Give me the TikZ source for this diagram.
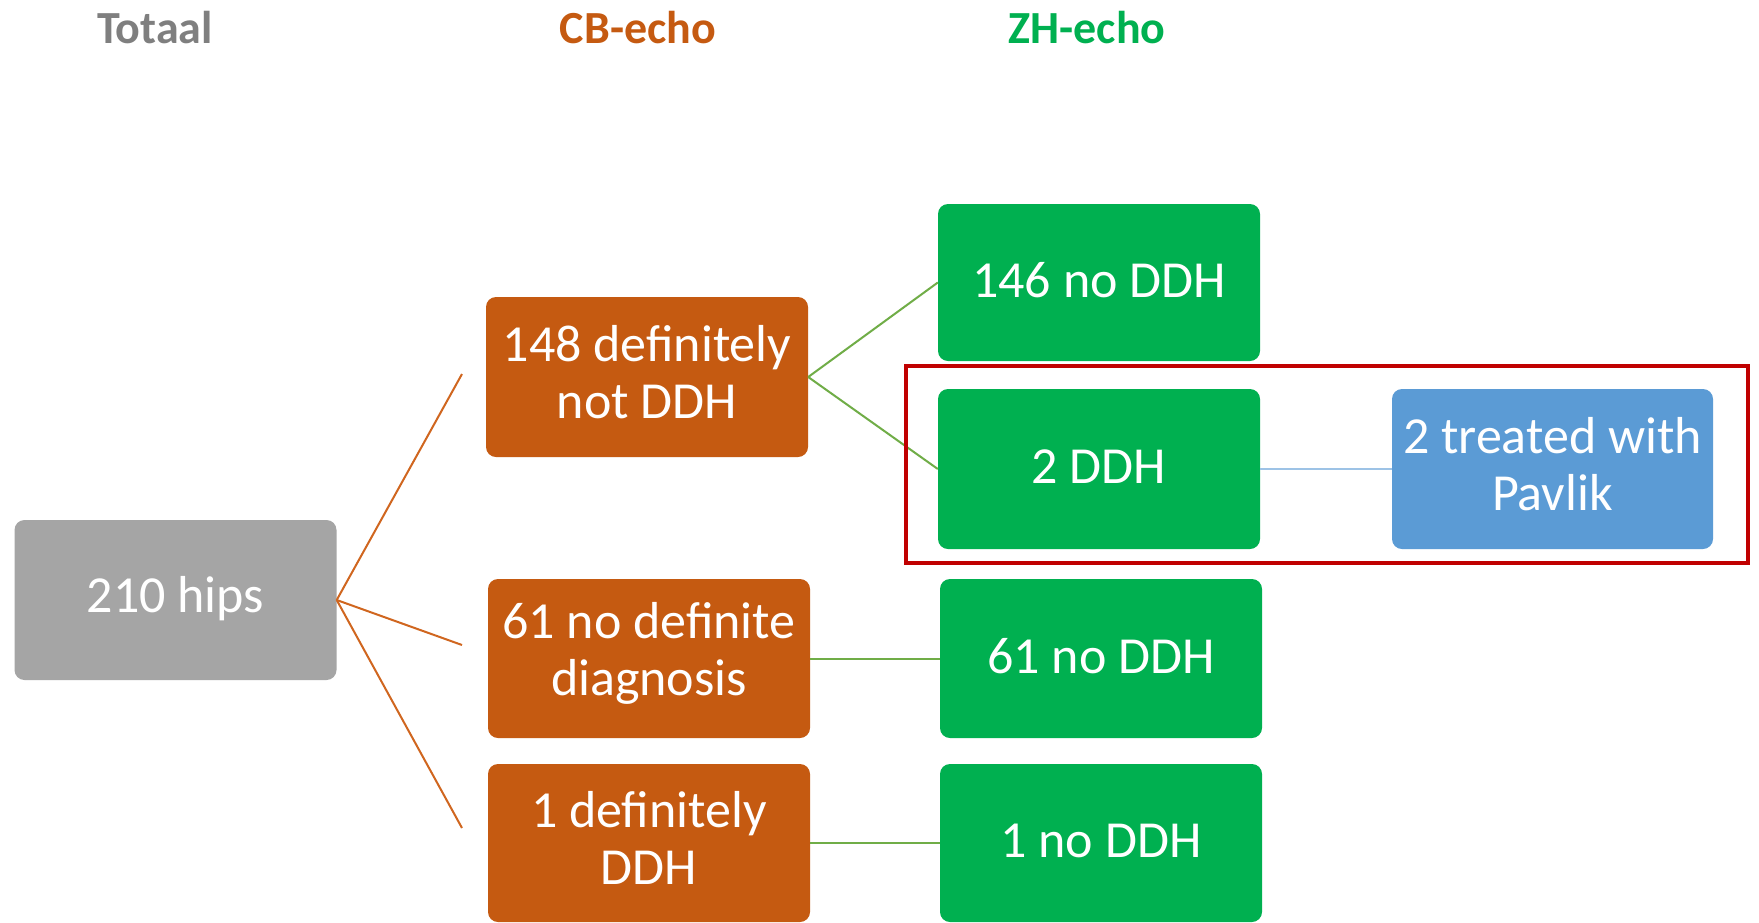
\documentclass[tikz,border=0pt]{standalone}
\usepackage{fontspec}
\usetikzlibrary{fit}
\setmainfont{Carlito}
\definecolor{cbOrange}{HTML}{C55A11}
\definecolor{zhGreen}{HTML}{00B050}
\definecolor{totGrey}{HTML}{A5A5A5}
\definecolor{headGrey}{HTML}{7F7F7F}
\definecolor{pavBlue}{HTML}{5B9BD5}
\definecolor{lineOrange}{HTML}{D0661F}
\definecolor{lineGreen}{HTML}{70AD47}
\definecolor{lineBlue}{HTML}{9DC3E6}
\definecolor{markRed}{HTML}{C00000}
% centred box text, lifted a little without changing its extent
\newcommand{\boxtext}[2][5pt]{\raisebox{#1}[\height][\depth]{\parbox{320pt}{\centering #2}}}
\begin{document}
\begin{tikzpicture}[x=1pt,y=-1pt,
  box/.style={rounded corners=10pt, inner sep=0pt, minimum width=322pt,
    text=white, font=\fontsize{52}{57}\selectfont},
  head/.style={font=\fontsize{46}{52}\selectfont\bfseries},
  orangeline/.style={draw=lineOrange, line width=2pt},
  greenline/.style={draw=lineGreen, line width=2pt},
  blueline/.style={draw=lineBlue, line width=2pt}]
\useasboundingbox (0,0) rectangle (1759,922);
\fill[white] (0,0) rectangle (1759,922);

% column headings
\node[head, text=headGrey] (hTot) at (155,28) {Totaal};
\node[head, text=cbOrange] (hCB) at (638,28) {CB-echo};
\node[head, text=zhGreen] (hZH) at (1087,28) {ZH-echo};

% boxes
\node[box, fill=totGrey, minimum height=160pt] (hips) at (175.5,600) {\boxtext[1pt]{210 hips}};
\node[box, fill=cbOrange, minimum height=160pt] (cb1) at (647,377) {\boxtext{148 definitely\\not DDH}};
\node[box, fill=cbOrange, minimum height=159pt] (cb2) at (649,658.5) {\boxtext{61 no definite\\diagnosis}};
\node[box, fill=cbOrange, minimum height=158pt] (cb3) at (649,843) {\boxtext{1 definitely\\DDH}};
\node[box, fill=zhGreen, minimum height=157pt] (zh1) at (1099,282.5) {\boxtext[2pt]{146 no DDH}};
\node[box, fill=zhGreen, minimum height=160pt] (zh2) at (1099,469) {\boxtext[2pt]{2 DDH}};
\node[box, fill=zhGreen, minimum height=159pt] (zh3) at (1101,658.5) {\boxtext[2pt]{61 no DDH}};
\node[box, fill=zhGreen, minimum height=158pt] (zh4) at (1101,843) {\boxtext[2pt]{1 no DDH}};
\node[box, fill=pavBlue, minimum height=160pt, minimum width=321pt] (pav) at (1552.5,469) {\boxtext{2 treated with\\Pavlik}};

% free ends of the fan from the total
\coordinate (f1) at (462,374);
\coordinate (f2) at (462,645);
\coordinate (f3) at (462,828);

% connectors
\draw[orangeline] (hips.east) -- (f1);
\draw[orangeline] (hips.east) -- (f2);
\draw[orangeline] (hips.east) -- (f3);
\draw[greenline] (cb1.east) -- (zh1.west);
\draw[greenline] (cb1.east) -- (zh2.west);
\draw[greenline] (cb2.east) -- (zh3.west);
\draw[greenline] (cb3.east) -- (zh4.west);
\draw[blueline] (zh2.east) -- (pav.west);

% highlight frame
\node[draw=markRed, line width=4pt, inner sep=0pt, fit={(906,366) (1748,563)}] (frame) {};
\end{tikzpicture}
\end{document}
